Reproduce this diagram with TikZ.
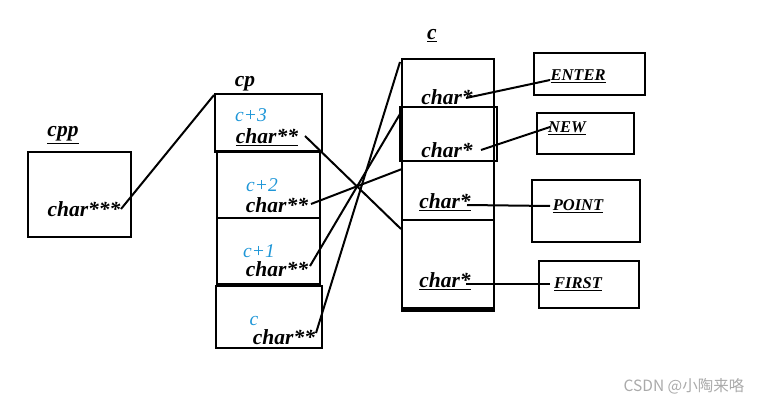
\documentclass[tikz,border=0pt]{standalone}
\usepackage{fontspec}
\setmainfont{Liberation Serif}
\newfontfamily\cjk{Noto Sans CJK SC}
\definecolor{lblue}{RGB}{30,150,215}
\definecolor{wmgray}{RGB}{170,170,170}
\begin{document}
\begin{tikzpicture}[x=1pt,y=-1pt,
  box/.style={draw,line width=2.4pt,inner sep=0pt,anchor=north west},
  lbl/.style={inner sep=0pt,font=\fontsize{21.5}{23}\selectfont\bfseries\itshape},
  slbl/.style={inner sep=0pt,font=\fontsize{16.5}{18}\selectfont\bfseries\itshape},
  blbl/.style={inner sep=0pt,text=lblue,font=\fontsize{19.5}{21}\selectfont\itshape},
  wire/.style={line width=2pt}]
\useasboundingbox (0,0) rectangle (768,404);
% cpp
\node[box,minimum width=103pt,minimum height=85pt] (cppbox) at (27,151) {};
\node[lbl] (cpplbl) at (63,135) {\underline{cpp}};
\node[lbl] (cppval) at (84,209) {char***};
% cp column
\node[box,minimum width=107pt,minimum height=58pt] (cp3) at (214,93) {};
\node[box,minimum width=103pt,minimum height=67pt] (cp2) at (216,150) {};
\node[box,minimum width=103pt,minimum height=66pt] (cp1) at (216,217) {};
\node[box,minimum width=106pt,minimum height=62pt] (cp0) at (215,285) {};
\node[lbl] (cplbl) at (245,84) {cp};
\node[blbl] (b3) at (251,115) {c+3};
\node[lbl] (v3) at (267,137) {\underline{char**}};
\node[blbl] (b2) at (262,185) {c+2};
\node[lbl] (v2) at (277,205) {char**};
\node[blbl] (b1) at (259,251) {c+1};
\node[lbl] (v1) at (277,269) {char**};
\node[blbl] (b0) at (254,321) {c};
\node[lbl] (v0) at (284,337) {char**};
% c column
\node[box,minimum width=92pt,minimum height=252pt] (ccol) at (401,58) {};
\node[box,minimum width=97pt,minimum height=54pt] (c1) at (399,106) {};
\draw[line width=2.4pt] (401,220) -- (493,220);
\draw[line width=4pt] (401,309) -- (493,309);
\node[lbl] (clbl) at (432,36) {\underline{c}};
\node[lbl] (s0) at (447,98) {\underline{char*}};
\node[lbl] (s1) at (447,150) {char*};
\node[lbl] (s2) at (445,202) {\underline{char*}};
\node[lbl] (s3) at (445,281) {\underline{char*}};
% right boxes
\node[box,minimum width=111pt,minimum height=42pt] (ebox) at (533,52) {};
\node[box,minimum width=97pt,minimum height=41pt] (nbox) at (536,112) {};
\node[box,minimum width=108pt,minimum height=62pt] (pbox) at (531,179) {};
\node[box,minimum width=100pt,minimum height=47pt] (fbox) at (538,260) {};
\node[slbl] (enter) at (578,76) {\underline{ENTER}};
\node[slbl] (new) at (567,128) {\underline{NEW}};
\node[slbl] (point) at (578,206) {\underline{POINT}};
\node[slbl] (first) at (578,284) {\underline{FIRST}};
% connector endpoints
\coordinate (pcpp) at (121,209);
\coordinate (pcp) at (214,95);
\coordinate (p3) at (305,136);
\coordinate (q3) at (401,229);
\coordinate (p2) at (311,204);
\coordinate (q2) at (402,169);
\coordinate (p1) at (310,266);
\coordinate (q1) at (400,114);
\coordinate (p0) at (316,333);
\coordinate (q0) at (400,62);
\coordinate (e1) at (550,80);
\coordinate (e2) at (466,98);
\coordinate (n1) at (550,127);
\coordinate (n2) at (481,150);
\coordinate (o1) at (550,206);
\coordinate (o2) at (467,205);
\coordinate (f1) at (550,284);
\coordinate (f2) at (466,284);
\draw[wire] (pcpp) -- (pcp);
\draw[wire] (p3) -- (q3);
\draw[wire] (p2) -- (q2);
\draw[wire] (p1) -- (q1);
\draw[wire] (p0) -- (q0);
\draw[wire] (e1) -- (e2);
\draw[wire] (n1) -- (n2);
\draw[wire] (o1) -- (o2);
\draw[wire] (f1) -- (f2);
% watermark
\node[inner sep=0pt,text=wmgray,font=\cjk\fontsize{15.5}{17}\selectfont] (wm) at (684,386) {CSDN @小陶来咯};
\end{tikzpicture}
\end{document}
